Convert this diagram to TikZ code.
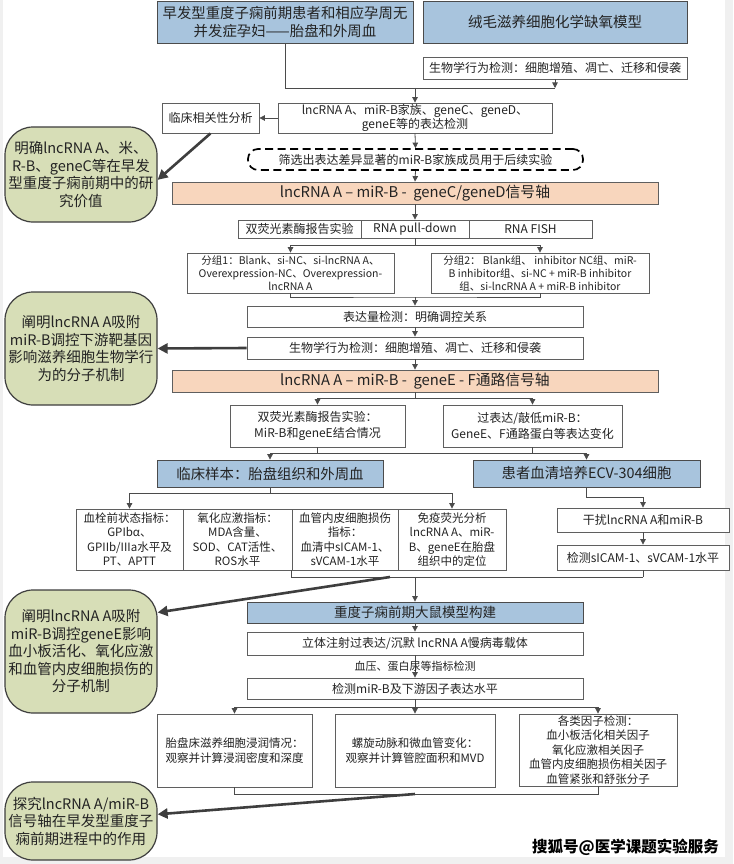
\documentclass[tikz,border=0pt]{standalone}
\usepackage{fontspec}
\setmainfont{Noto Sans CJK SC}
\usetikzlibrary{arrows.meta}
\definecolor{bluefill}{RGB}{168,196,221}
\definecolor{orangefill}{RGB}{248,214,189}
\definecolor{greenfill}{RGB}{215,222,183}
\definecolor{linegray}{RGB}{95,95,95}
\definecolor{arrowgray}{RGB}{75,75,75}
\definecolor{bigarrow}{RGB}{62,62,62}
\definecolor{txt}{RGB}{35,35,35}
\definecolor{framegray}{RGB}{240,240,240}
\newcommand\fz[2]{\fontsize{#1pt}{#2pt}\selectfont}
\tikzset{
  base/.style={draw=linegray, line width=0.8pt, inner sep=0pt, align=center, text=txt, font=\fz{12}{14}},
  bluebox/.style={base, fill=bluefill, draw=arrowgray},
  orangebox/.style={base, fill=orangefill, font=\fz{14.8}{17}},
  whitebox/.style={base, fill=white},
  greennode/.style={draw=bigarrow, line width=1.2pt, fill=greenfill, rounded corners=28pt, align=center, inner sep=0pt, text=txt, font=\fz{14.5}{17.5}},
  dashbox/.style={draw=black, dash pattern=on 8pt off 4.5pt, line width=1.7pt, rounded corners=10pt, inner sep=0pt, text=txt, font=\fz{12}{14}},
  ln/.style={draw=arrowgray, line width=0.8pt},
  arr/.style={ln, -{Triangle[width=5.5pt,length=5.5pt]}},
  big/.style={draw=bigarrow, line width=2.6pt, -{Triangle[width=10pt,length=10pt]}}
}
\begin{document}
\begin{tikzpicture}[x=1pt,y=-1pt]
\useasboundingbox (0,0) rectangle (733,864);
\fill[framegray] (0,0) rectangle (733,864);
\fill[white] (3,0) rectangle (725,857);

% top row
\node[bluebox, minimum width=256, minimum height=42, font=\fz{14.4}{18}] (b1) at (285,22) {早发型重度子痫前期患者和相应孕周无\\并发症孕妇——胎盘和外周血};
\node[bluebox, minimum width=264, minimum height=42, font=\fz{14.5}{18}] (b2) at (555,22) {绒毛滋养细胞化学缺氧模型};
\node[whitebox, minimum width=264, minimum height=22] (b3) at (555,68) {生物学行为检测：细胞增殖、凋亡、迁移和侵袭};
\node[whitebox, minimum width=274, minimum height=30, font=\fz{12}{13.5}] (b4) at (415,118) {lncRNA A、miR-B家族、geneC、geneD、\\geneE等的表达检测};
\node[whitebox, minimum width=97, minimum height=30] (clin) at (210.5,118) {临床相关性分析};
\node[dashbox, minimum width=335, minimum height=21] (dash) at (415.5,159.5) {筛选出表达差异显著的miR-B家族成员用于后续实验};
\node[orangebox, minimum width=486, minimum height=22] (or1) at (415,193) {lncRNA A – miR-B -\ \ geneC/geneD信号轴};

% three cells
\node[whitebox, minimum width=123, minimum height=18] (cA) at (299.5,229) {双荧光素酶报告实验};
\node[whitebox, minimum width=108, minimum height=18] (cB) at (415,229) {RNA pull-down};
\node[whitebox, minimum width=123, minimum height=18] (cC) at (530.5,229) {RNA FISH};

% groups
\node[whitebox, minimum width=207, minimum height=40, font=\fz{10.5}{13}] (g1) at (290.5,273) {分组1：Blank、si-NC、si-lncRNA A、\\Overexpression-NC、Overexpression-\\lncRNA A};
\node[whitebox, minimum width=218, minimum height=40, font=\fz{10.5}{13}] (g2) at (540,273) {分组2：\ Blank组、\ inhibitor NC组、miR-\\B inhibitor组、si-NC + miR-B inhibitor\\组、si-lncRNA A + miR-B inhibitor};
\node[whitebox, minimum width=336, minimum height=21] (expr) at (415,316.5) {表达量检测：明确调控关系};
\node[whitebox, minimum width=336, minimum height=22] (bio2) at (415,348) {生物学行为检测：细胞增殖、凋亡、迁移和侵袭};
\node[orangebox, minimum width=486, minimum height=22] (or2) at (415,381) {lncRNA A – miR-B -\ \ geneE - F通路信号轴};

\node[whitebox, minimum width=175, minimum height=42, font=\fz{12}{16}] (dl) at (317.5,426) {双荧光素酶报告实验：\\MiR-B和geneE结合情况};
\node[whitebox, minimum width=179, minimum height=42, font=\fz{12}{16}] (ov) at (532.5,426) {过表达/敲低miR-B：\\GeneE、F通路蛋白等表达变化};

\node[bluebox, minimum width=226, minimum height=27, font=\fz{14.4}{17}] (clinblue) at (270,473.5) {临床样本：胎盘组织和外周血};
\node[bluebox, minimum width=227, minimum height=27, font=\fz{14.4}{17}] (pat) at (586.5,473.5) {患者血清培养ECV-304细胞};

% four cells
\node[whitebox, minimum width=107, minimum height=61, font=\fz{11.5}{14.3}] (c1) at (129.5,539.5) {血栓前状态指标：\\GPIbα、\\GPIIb/IIIa水平及\\PT、APTT};
\node[whitebox, minimum width=109, minimum height=61, font=\fz{11.5}{14.3}] (c2) at (237.5,539.5) {氧化应激指标：\\MDA含量、\\SOD、CAT活性、\\ROS水平};
\node[whitebox, minimum width=106, minimum height=61, font=\fz{11.5}{14.3}] (c3) at (345,539.5) {血管内皮细胞损伤\\指标：\\血清中sICAM-1、\\sVCAM-1水平};
\node[whitebox, minimum width=108, minimum height=61, font=\fz{11.5}{14.3}] (c4) at (452,539.5) {免疫荧光分析\\lncRNA A、miR-\\B、geneE在胎盘\\组织中的定位};

\node[whitebox, minimum width=172, minimum height=24] (gan) at (643,520) {干扰lncRNA A和miR-B};
\node[whitebox, minimum width=172, minimum height=25] (det) at (643,557.5) {检测sICAM-1、sVCAM-1水平};

\node[bluebox, minimum width=336, minimum height=21, font=\fz{13.5}{16}] (rat) at (415,612.5) {重度子痫前期大鼠模型构建};
\node[whitebox, minimum width=336, minimum height=23] (inj) at (415,643.5) {立体注射过表达/沉默 lncRNA A慢病毒载体};
\node[whitebox, minimum width=336, minimum height=21] (detm) at (415,688.5) {检测miR-B及下游因子表达水平};

\node[whitebox, minimum width=155, minimum height=73, font=\fz{11.5}{15}] (bA) at (234.5,750.5) {胎盘床滋养细胞浸润情况：\\观察并计算浸润密度和深度};
\node[whitebox, minimum width=160, minimum height=73, font=\fz{11.5}{15}] (bB) at (415,750.5) {螺旋动脉和微血管变化：\\观察并计算管腔面积和MVD};
\node[whitebox, minimum width=158, minimum height=72, font=\fz{11.5}{14.4}] (bC) at (598,750) {各类因子检测：\\血小板活化相关因子\\氧化应激相关因子\\血管内皮细胞损伤相关因子\\血管紧张和舒张分子};

% green conclusion nodes
\node[greennode, minimum width=152, minimum height=95] (gr1) at (81,174.5) {明确lncRNA A、米、\\R-B、geneC等在早发\\型重度子痫前期中的研\\究价值};
\node[greennode, minimum width=152, minimum height=113] (gr2) at (81,348.5) {阐明lncRNA A吸附\\miR-B调控下游靶基因\\影响滋养细胞生物学行\\为的分子机制};
\node[greennode, minimum width=152, minimum height=123] (gr3) at (81,651.5) {阐明lncRNA A吸附\\miR-B调控geneE影响\\血小板活化、氧化应激\\和血管内皮细胞损伤的\\分子机制};
\node[greennode, minimum width=152, minimum height=78] (gr4) at (81,821) {探究lncRNA A/miR-B\\信号轴在早发型重度子\\痫前期进程中的作用};

% watermark
\node[font=\fz{15.5}{17}\bfseries, text=black, inner sep=0pt] (wm) at (625.5,847) {搜狐号@医学课题实验服务};

% junction coordinates
\coordinate (j1a) at (285,88);
\coordinate (j1b) at (555,88);
\coordinate (j2) at (415,245);
\coordinate (j3) at (415,297);
\coordinate (j4) at (415,398);
\coordinate (j5L) at (270,453);
\coordinate (j5R) at (586.5,453);
\coordinate (j6) at (270,493);
\coordinate (j7) at (643,497);
\coordinate (j8M) at (415,577);
\coordinate (j8R) at (643,577);
\coordinate (j8T) at (390,577);
\coordinate (j9) at (415,707);
\coordinate (j10) at (415,794);
\coordinate (j10R) at (598,794);

% connectors
\draw[ln] (b1.south -| j1a) -- (j1a) -- (j1b);
\draw[arr] (b3.south) -- (j1b);
\draw[arr] (b4.north |- j1a) -- (b4.north);
\draw[arr] (b4.west) -- (clin.east);
\draw[arr] (b4.south) -- (dash.north);
\draw[arr] (dash.south) -- (or1.north);
\draw[arr] (or1.south) -- (cB.north);
\draw[ln] (cB.south) -- (j2);
\draw[arr] (j2) -| (g1.north);
\draw[arr] (j2) -| (g2.north);
\draw[ln] (g1.south) |- (j3) -| (g2.south);
\draw[arr] (j3) -- (expr.north);
\draw[arr] (expr.south) -- (bio2.north);
\draw[arr] (bio2.south) -- (or2.north);
\draw[ln] (or2.south) -- (j4);
\draw[arr] (j4) -| (dl.north);
\draw[arr] (j4) -| (ov.north);
\draw[ln] (dl.south) -- (dl.south |- j5L);
\draw[ln] (ov.south) -- (ov.south |- j5L);
\draw[ln] (j5L) -- (j5R);
\draw[arr] (j5L) -- (clinblue.north);
\draw[arr] (j5R) -- (pat.north);
\draw[ln] (clinblue.south) -- (j6);
\draw[arr] (j6) -| (c1.north);
\draw[arr] (j6) -| (c4.north);
\draw[arr] (pat.south) |- (j7) -- (gan.north);
\draw[arr] (gan.south) -- (det.north);
\draw[ln] (c3.south west) |- (j8R);
\draw[ln] (det.south) -- (j8R);
\draw[arr] (j8M) -- (rat.north);
\draw[arr] (rat.south) -- (inj.north);
\draw[arr] (inj.south) -- node[midway, inner sep=0pt, text=txt, font=\fz{11}{13}] {血压、蛋白尿等指标检测} (detm.north);
\draw[ln] (detm.south) -- (j9);
\draw[arr] (j9) -| (bA.north);
\draw[arr] (j9) -| (bC.north);
\draw[arr] (j9) -- (bB.north);
\draw[ln] (bA.south) |- (j10R) -- (bC.south);

% thick conclusion arrows
\draw[big] (clin.south) -- (gr1.-4);
\draw[big] (bio2.west) -- (gr2.east);
\draw[big] (j8T) -- (gr3.27);
\draw[big] (j10) -- (gr4.5);
\end{tikzpicture}
\end{document}
